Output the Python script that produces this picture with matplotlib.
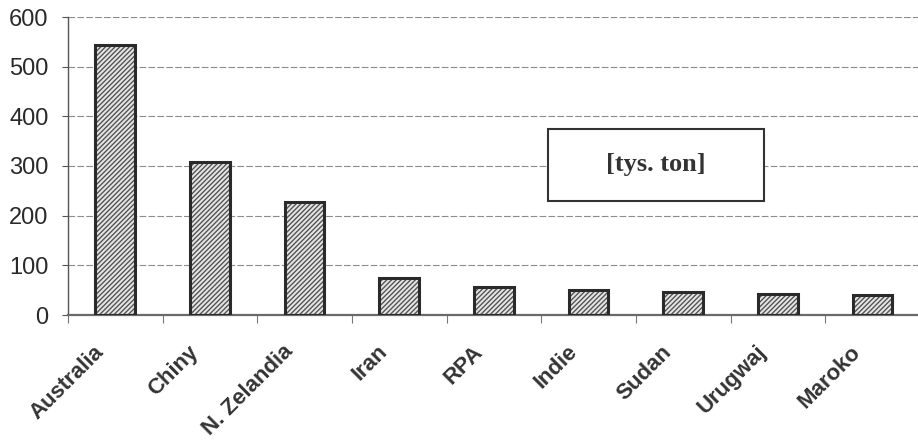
import matplotlib.pyplot as plt
from matplotlib.patches import Rectangle
from matplotlib.transforms import ScaledTranslation

countries = ["Australia", "Chiny", "N. Zelandia", "Iran", "RPA",
             "Indie", "Sudan", "Urugwaj", "Maroko"]
values = [544, 308, 227, 74, 57, 51, 46, 43, 40]
y_ticks = [0, 100, 200, 300, 400, 500, 600]
unit_label = "[tys. ton]"

plt.rcParams["hatch.linewidth"] = 1.0

fig = plt.figure(figsize=(9.18, 4.47), dpi=100)
ax = fig.add_axes([68 / 918, 1 - 315 / 447, 1 - 68 / 918 + 0.002, (315 - 17) / 447])

x = list(range(len(countries)))

# hatch layer, then outline layer on top
ax.bar(x, values, width=0.42, color="#e6e6e6", edgecolor="#555555",
       hatch="///////", linewidth=0, zorder=2)
ax.bar(x, values, width=0.42, fill=False, edgecolor="#2a2a2a",
       linewidth=2.2, zorder=3)

ax.set_xlim(-0.5, len(countries) - 0.5)
ax.set_ylim(0, 600)
ax.set_yticks(y_ticks)
ax.yaxis.grid(True, linestyle=(0, (6, 2)), color="#8c8c8c", linewidth=0.8)
ax.set_axisbelow(True)

for side in ["top", "right"]:
    ax.spines[side].set_visible(False)
ax.spines["left"].set_color("#555555")
ax.spines["left"].set_linewidth(1.0)
ax.spines["bottom"].set_color("#6a6a6a")
ax.spines["bottom"].set_linewidth(1.6)

ax.tick_params(axis="y", labelsize=17, length=4, color="#555555",
               labelcolor="#2a2a2a", pad=10)

# category labels on major ticks (hidden), boundary ticks as minor
ax.set_xticks(x)
ax.set_xticklabels(countries, rotation=45, ha="right", va="top",
                   rotation_mode="anchor", fontsize=16, fontweight="bold",
                   color="#333333")
ax.tick_params(axis="x", which="major", length=0, pad=19)
ax.set_xticks([i - 0.5 for i in x], minor=True)
ax.tick_params(axis="x", which="minor", length=6, color="#777777", width=0.8)

shift = ScaledTranslation(-22 / 100, 0, fig.dpi_scale_trans)
for lab in ax.get_yticklabels():
    lab.set_fontfamily("Liberation Sans")
for lab in ax.get_xticklabels():
    lab.set_fontfamily("Liberation Sans")
    lab.set_transform(lab.get_transform() + shift)

# unit box
box = Rectangle((548 / 918, 1 - 201 / 447), (764 - 548) / 918, (201 - 129) / 447,
                transform=fig.transFigure, facecolor="white",
                edgecolor="#333333", linewidth=1.5, zorder=5)
fig.patches.append(box)
fig.text(656 / 918, 1 - 165 / 447, unit_label, ha="center", va="center",
         fontsize=19, fontweight="bold", family="Liberation Serif",
         color="#333333", zorder=6)

fig.savefig("out.png", dpi=100)
